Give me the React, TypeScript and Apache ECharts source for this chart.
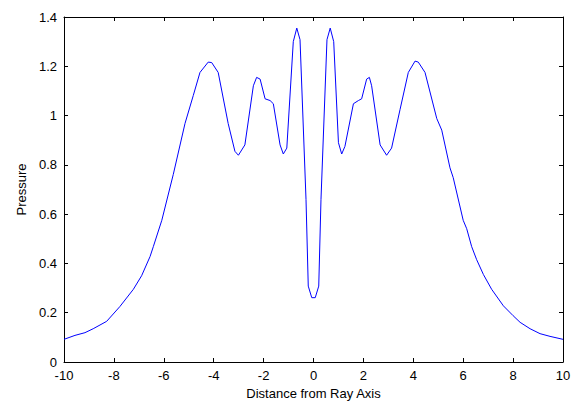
import React, { useEffect, useRef } from "react";
import * as echarts from "echarts";

const xLeft = [-10, -9.56, -9.16, -8.83, -8.29, -7.76, -7.22, -6.89, -6.55, -6.42, -6.08, -5.62, -5.15, -4.82, -4.55, -4.22, -4.08, -3.82, -3.42, -3.15, -3.01, -2.75, -2.41, -2.28, -2.14, -1.94, -1.74, -1.61, -1.34, -1.21, -1.07, -0.81, -0.67, -0.54, -0.3, -0.21, -0.07];
const yLeft = [0.092, 0.108, 0.119, 0.135, 0.165, 0.225, 0.295, 0.35, 0.428, 0.468, 0.575, 0.761, 0.968, 1.081, 1.175, 1.217, 1.215, 1.175, 0.968, 0.855, 0.839, 0.881, 1.121, 1.155, 1.148, 1.068, 1.061, 1.048, 0.881, 0.844, 0.868, 1.3, 1.355, 1.308, 0.66, 0.308, 0.261];
const xRight = [0.07, 0.21, 0.3, 0.54, 0.67, 0.81, 1.0, 1.13, 1.26, 1.6, 1.8, 1.93, 2.13, 2.24, 2.33, 2.67, 2.93, 3.13, 3.47, 3.8, 4.07, 4.2, 4.47, 4.94, 5.14, 5.47, 5.6, 6.0, 6.14, 6.34, 6.54, 6.81, 7.14, 7.61, 8.0, 8.28, 8.68, 9.08, 9.48, 10];
const yRight = [0.261, 0.308, 0.66, 1.308, 1.355, 1.3, 0.89, 0.844, 0.875, 1.048, 1.061, 1.068, 1.148, 1.155, 1.121, 0.881, 0.839, 0.868, 1.025, 1.175, 1.221, 1.217, 1.175, 0.988, 0.941, 0.788, 0.748, 0.575, 0.541, 0.468, 0.415, 0.355, 0.295, 0.228, 0.188, 0.161, 0.135, 0.115, 0.104, 0.092];

const xTitle = "Distance from Ray Axis";
const yTitle = "Pressure";

export default function App() {
  const ref = useRef<HTMLDivElement>(null);
  useEffect(() => {
    if (!ref.current) return;
    const chart = echarts.init(ref.current, null, { renderer: "svg" });
    const data = [
      ...xLeft.map((x, i) => [x, yLeft[i]]),
      ...xRight.map((x, i) => [x, yRight[i]]),
    ];
    const font = "Liberation Sans, Arial, sans-serif";
    const axisLine = { show: true, onZero: false, lineStyle: { color: "#000", width: 1 } };
    const tick = { show: true, inside: true, length: 4, lineStyle: { color: "#000" } };
    chart.setOption({
      animation: false,
      backgroundColor: "#fff",
      grid: { left: 64, right: 15, top: 17, bottom: 38 },
      xAxis: [
        {
          type: "value", min: -10, max: 10, interval: 2,
          axisLine, axisTick: tick, splitLine: { show: false },
          axisLabel: { color: "#000", fontSize: 13, fontFamily: font, margin: 7 },
          name: xTitle, nameLocation: "middle", nameGap: 25,
          nameTextStyle: { color: "#000", fontSize: 13, fontFamily: font },
        },
        {
          type: "value", min: -10, max: 10, interval: 2, position: "top",
          axisLine, axisTick: tick, splitLine: { show: false }, axisLabel: { show: false },
        },
      ],
      yAxis: [
        {
          type: "value", min: 0, max: 1.4, interval: 0.2,
          axisLine, axisTick: tick, splitLine: { show: false },
          axisLabel: { color: "#000", fontSize: 13, fontFamily: font, margin: 7 },
          name: yTitle, nameLocation: "middle", nameGap: 36, nameRotate: 90,
          nameTextStyle: { color: "#000", fontSize: 13, fontFamily: font },
        },
        {
          type: "value", min: 0, max: 1.4, interval: 0.2, position: "right",
          axisLine, axisTick: tick, splitLine: { show: false }, axisLabel: { show: false },
        },
      ],
      series: [
        {
          type: "line", data, showSymbol: false, symbol: "none",
          lineStyle: { color: "#0000ff", width: 1 }, itemStyle: { color: "#0000ff" },
        },
      ],
    });
    return () => chart.dispose();
  }, []);
  return <div ref={ref} style={{ width: 578, height: 405, position: "absolute", left: 0, top: 0 }} />;
}
